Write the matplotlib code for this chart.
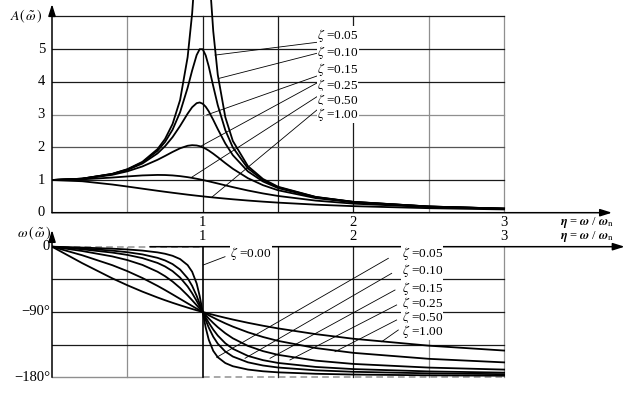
import matplotlib
matplotlib.use('Agg')
import matplotlib.pyplot as plt

plt.rcParams['mathtext.fontset'] = 'stix'
plt.rcParams['font.family'] = ['Liberation Serif', 'DejaVu Serif']

# ---------------- data ----------------
eta = [0, 0.2, 0.4, 0.5, 0.6, 0.7, 0.75, 0.8, 0.85, 0.9, 0.93, 0.96, 0.98, 1.0,
       1.02, 1.04, 1.07, 1.1, 1.15, 1.2, 1.3, 1.4, 1.5, 1.75, 2.0, 2.5, 3.0]

zeta_labels = ['0.05', '0.10', '0.15', '0.25', '0.50', '1.00']

amp_005 = [1.000, 1.041, 1.189, 1.330, 1.556, 1.943, 2.253, 2.712, 3.446, 4.757, 6.097, 8.07, 9.46, 10.0,
           9.11, 7.56, 5.55, 4.218, 2.921, 2.193, 1.424, 1.031, 0.794, 0.483, 0.333, 0.190, 0.125]
amp_010 = [1.000, 1.041, 1.185, 1.322, 1.536, 1.891, 2.162, 2.538, 3.073, 3.821, 4.350, 4.822, 5.001, 5.000,
           4.809, 4.476, 3.869, 3.288, 2.525, 1.995, 1.356, 1.000, 0.778, 0.478, 0.330, 0.190, 0.125]
amp_015 = [1.000, 1.040, 1.179, 1.307, 1.504, 1.813, 2.033, 2.311, 2.653, 3.029, 3.226, 3.350, 3.371, 3.333,
           3.240, 3.101, 2.839, 2.557, 2.117, 1.759, 1.262, 0.954, 0.753, 0.470, 0.327, 0.189, 0.124]
amp_025 = [1.000, 1.036, 1.158, 1.265, 1.415, 1.617, 1.735, 1.858, 1.970, 2.047, 2.065, 2.056, 2.034, 2.000,
           1.955, 1.900, 1.804, 1.699, 1.517, 1.344, 1.055, 0.842, 0.686, 0.446, 0.316, 0.185, 0.123]
amp_050 = [1.000, 1.020, 1.075, 1.109, 1.140, 1.155, 1.152, 1.140, 1.118, 1.087, 1.064, 1.038, 1.020, 1.000,
           0.980, 0.959, 0.926, 0.893, 0.837, 0.782, 0.679, 0.589, 0.512, 0.370, 0.277, 0.172, 0.117]
amp_100 = [1.000, 0.962, 0.862, 0.800, 0.735, 0.671, 0.640, 0.610, 0.581, 0.552, 0.536, 0.520, 0.510, 0.500,
           0.490, 0.480, 0.466, 0.452, 0.431, 0.410, 0.372, 0.338, 0.308, 0.246, 0.200, 0.138, 0.100]

ph_005 = [0, -1.19, -2.73, -3.81, -5.36, -7.82, -9.73, -12.53, -17.03, -25.35, -34.54, -50.77, -68.00, -90.0,
          -111.61, -128.12, -143.56, -152.35, -160.37, -164.74, -169.33, -171.70, -173.16, -175.15, -176.19, -177.27, -177.85]
ph_010 = [0, -2.39, -5.44, -7.59, -10.62, -15.35, -18.92, -23.96, -31.49, -43.45, -54.00, -67.79, -78.58, -90.0,
          -101.20, -111.42, -124.10, -133.67, -144.50, -151.39, -159.36, -163.74, -166.50, -170.37, -172.41, -174.56, -175.71]
ph_015 = [0, -3.58, -8.13, -11.31, -15.71, -22.38, -27.22, -33.69, -42.58, -54.87, -64.16, -74.77, -82.33, -90.0,
          -97.52, -104.66, -114.30, -122.47, -133.07, -140.71, -150.52, -156.37, -160.20, -165.72, -168.69, -171.87, -173.58]
ph_025 = [0, -5.95, -13.39, -18.43, -25.11, -34.46, -40.60, -48.01, -56.86, -67.11, -73.80, -80.72, -85.38, -90.0,
          -94.53, -98.92, -105.15, -110.90, -119.28, -126.25, -136.71, -143.91, -149.04, -157.01, -161.57, -166.61, -169.38]
ph_050 = [0, -11.77, -25.46, -33.69, -43.15, -53.93, -59.74, -65.77, -71.92, -78.08, -81.73, -85.33, -87.69, -90.0,
          -92.27, -94.49, -97.71, -100.81, -105.66, -110.14, -117.96, -124.44, -129.81, -139.69, -146.31, -154.54, -159.44]
ph_100 = [0, -22.62, -43.60, -53.13, -61.93, -69.98, -73.74, -77.32, -80.72, -83.97, -85.84, -87.66, -88.85, -90.0,
          -91.14, -92.25, -93.86, -95.45, -97.98, -100.39, -104.86, -108.92, -112.62, -120.51, -126.87, -136.40, -143.13]

eta_000 = [0, 1, 1, 3]
ph_000 = [0, 0, -180, -180]

amp_ticks = [0, 1, 2, 3, 4, 5]
eta_ticks = [1, 2, 3]
ph_ticks = [0, -90, -180]
ph_tick_labels = ['0', '\u221290\u00b0', '\u2212180\u00b0']

amps = [amp_005, amp_010, amp_015, amp_025, amp_050, amp_100]
phs = [ph_005, ph_010, ph_015, ph_025, ph_050, ph_100]

# ---------------- layout ----------------
W, H = 630, 399
fig = plt.figure(figsize=(W / 100, H / 100), dpi=100)

def rect(x0, y0, x1, y1):
    return [x0 / W, 1 - y1 / H, (x1 - x0) / W, (y1 - y0) / H]

PXU = 150.7  # px per eta unit
ax1 = fig.add_axes(rect(52, 0, 630, 212.7))
ax1.set_xlim(0, 578 / PXU)
ax1.set_ylim(0, 212.7 / 32.7)
ax1.axis('off')

ax2 = fig.add_axes(rect(52, 224.93, 630, 390))
ax2.set_xlim(0, 578 / PXU)
ax2.set_ylim(-197.5, 30)
ax2.axis('off')

BLK = '#1a1a1a'
GRY = '#8f8f8f'
FS = 9.5
TFS = 10.5

# ----- top grid -----
for x, c in [(0.5, GRY), (1.0, BLK), (1.5, BLK), (2.0, BLK), (2.5, GRY), (3.0, GRY)]:
    ax1.plot([x, x], [0, 6], color=c, lw=0.9, zorder=1)
for y, c in [(1, BLK), (2, '#555555'), (3, GRY), (4, BLK), (5, BLK), (6, BLK)]:
    ax1.plot([0, 3], [y, y], color=c, lw=0.9, zorder=1)

for a in amps:
    ax1.plot(eta, a, color='black', lw=1.3, zorder=3)

# axes arrows (top)
arrow_kw = dict(arrowstyle='-|>,head_length=0.7,head_width=0.22', color='black', lw=1.1,
                shrinkA=0, shrinkB=0)
ax1.annotate('', xy=(0, 6.38), xytext=(0, 0), arrowprops=arrow_kw, annotation_clip=False, zorder=4)
ax1.annotate('', xy=(3.716, 0), xytext=(0, 0), arrowprops=arrow_kw, annotation_clip=False, zorder=4)

for v in amp_ticks:
    ax1.text(-0.046, v, str(v), ha='right', va='center', fontsize=TFS, clip_on=False)
ax1.text(-0.06, 6.0, r'$A(\,\tilde{\omega}\,)$', ha='right', va='center', fontsize=10)

# top labels + leaders
top_lab_y = [5.434, 4.905, 4.364, 3.884, 3.446, 3.018]
top_lead_start = [5.211, 4.875, 4.180, 3.966, 3.547, 3.141]
top_lead_end = [(1.082, 4.82), (1.110, 4.11), (1.027, 2.99), (0.982, 2.02), (0.929, 1.09), (1.062, 0.48)]
for lab, ly, sy, (ex, ey) in zip(zeta_labels, top_lab_y, top_lead_start, top_lead_end):
    ax1.plot([1.758, ex], [sy, ey], color='black', lw=0.6, zorder=4)
    ax1.text(1.758, ly, r'$\zeta$ =' + lab, ha='left', va='center', fontsize=FS, zorder=6,
             bbox=dict(facecolor='white', edgecolor='none', pad=0.05))

# ----- bottom grid -----
for x, c in [(0.5, GRY), (1.5, BLK), (2.0, BLK), (2.5, GRY), (3.0, GRY)]:
    ax2.plot([x, x], [-180, 0], color=c, lw=0.9, zorder=1)
for y in [-45, -90, -135]:
    ax2.plot([0, 3], [y, y], color=BLK, lw=0.9, zorder=1)
ax2.plot([0, 1], [-180, -180], color=GRY, lw=1.0, zorder=1)

# zeta = 0 curve
ax2.plot(eta_000[:2], ph_000[:2], color='#9a9a9a', lw=1.2, dashes=(4, 2.5), zorder=2)
ax2.plot(eta_000[1:3], ph_000[1:3], color='black', lw=1.2, zorder=3)
ax2.plot(eta_000[2:], ph_000[2:], color='#9a9a9a', lw=1.2, dashes=(4, 2.5), zorder=2)

for p in phs:
    ax2.plot(eta, p, color='black', lw=1.3, zorder=3)

ax2.annotate('', xy=(0, 23), xytext=(0, -180), arrowprops=arrow_kw, annotation_clip=False, zorder=4)
ax2.annotate('', xy=(3.80, 0), xytext=(0.65, 0), arrowprops=arrow_kw, annotation_clip=False, zorder=4)

for v, t in zip(ph_ticks, ph_tick_labels):
    ax2.text(-0.013, v, t, ha='right', va='center', fontsize=TFS, clip_on=False)
ax2.text(-0.115, 19, r'$\omega\,(\,\tilde{\omega}\,)$', ha='center', va='center', fontsize=10)

bot_lab_y = [-10.06, -33.49, -57.34, -78.01, -97.86, -117.15]
bot_lead = [((2.232, -16.0), (1.093, -152.4)), ((2.254, -36.7), (1.281, -153.8)),
            ((2.276, -59.7), (1.447, -153.8)), ((2.287, -80.3), (1.579, -156.1)),
            ((2.287, -101.0), (1.878, -144.7)), ((2.298, -114.8), (2.188, -130.9))]
for lab, ly, ((sx, sy), (ex, ey)) in zip(zeta_labels, bot_lab_y, bot_lead):
    ax2.plot([sx, ex], [sy, ey], color='black', lw=0.6, zorder=4)
    ax2.text(2.320, ly, r'$\zeta$ =' + lab, ha='left', va='center', fontsize=FS, zorder=6,
             bbox=dict(facecolor='white', edgecolor='none', pad=0.05))

ax2.plot([1.148, 1.004], [-13.8, -25.2], color='black', lw=0.6, zorder=4)
ax2.text(1.181, -10.06, r'$\zeta$ =0.00', ha='left', va='center', fontsize=FS, zorder=6,
         bbox=dict(facecolor='white', edgecolor='none', pad=0.05))

# x tick labels (two rows)
for t in eta_ticks:
    for py in (222, 237):
        fig.text((52 + t * PXU) / W, 1 - py / H, str(t), ha='center', va='center', fontsize=TFS)
for py in (222, 237):
    fig.text(587 / W, 1 - py / H, r'$\boldsymbol{\eta}$ = $\boldsymbol{\omega}$ / $\boldsymbol{\omega}_{\rm n}$',
             ha='center', va='center', fontsize=9)

fig.savefig('out.png', dpi=100)
